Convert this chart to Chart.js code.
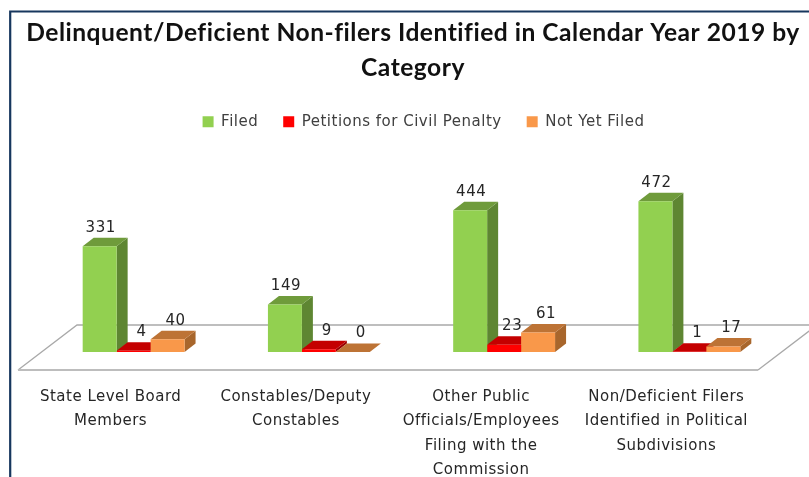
<!DOCTYPE html>
<html>
<head>
<meta charset="utf-8">
<title>Delinquent/Deficient Non-filers</title>
<script src="https://cdn.jsdelivr.net/npm/chart.js@4"></script>
<style>
  html, body { margin: 0; padding: 0; background: #fff; overflow: hidden; }
  canvas { display: block; filter: blur(0.4px); }
</style>
</head>
<body>
<canvas id="chart1" width="809" height="477"></canvas>
<script>
const titleLines = ['Delinquent/Deficient Non-filers Identified in Calendar Year 2019 by', 'Category'];
const categories = [
  ['State Level Board', 'Members'],
  ['Constables/Deputy', 'Constables'],
  ['Other Public', 'Officials/Employees', 'Filing with the', 'Commission'],
  ['Non/Deficient Filers', 'Identified in Political', 'Subdivisions']
];
const filed = [331, 149, 444, 472];
const petitions = [4, 9, 23, 1];
const notYetFiled = [40, 0, 61, 17];

const DEPTH_X = 11, DEPTH_Y = 8.5;
const faces = [
  { side: '#5e8632', top: '#6f9b3b', labelDx: 1 },
  { side: '#990000', top: '#c40000', labelDx: 8 },
  { side: '#a8662c', top: '#bd7335', labelDx: 8 }
];

const poly = (ctx, pts, color) => {
  ctx.fillStyle = color;
  ctx.beginPath();
  pts.forEach((p, i) => i ? ctx.lineTo(p[0], p[1]) : ctx.moveTo(p[0], p[1]));
  ctx.closePath();
  ctx.fill();
};

// the reference text is a stretched screenshot, so space the letters a bit
const spacingPlugin = {
  id: 'spacing',
  beforeLayout(chart) { chart.ctx.letterSpacing = '0.5px'; },
  beforeDraw(chart) { chart.ctx.letterSpacing = '0.5px'; }
};

// chart frame and the tilted floor under the bars
const floorPlugin = {
  id: 'floor',
  beforeDatasetsDraw(chart) {
    const ctx = chart.ctx;
    const base = chart.scales.y.getPixelForValue(0);
    const left = chart.scales.x.left - 23, right = chart.scales.x.right - 24;
    const front = base + 18, back = base - 27;
    ctx.save();
    ctx.strokeStyle = '#17375e';
    ctx.lineWidth = 2.2;
    ctx.beginPath();
    ctx.moveTo(10.2, 477);
    ctx.lineTo(10.2, 11.5);
    ctx.lineTo(809, 11.5);
    ctx.stroke();
    ctx.strokeStyle = '#a9a9a9';
    ctx.lineWidth = 1.3;
    ctx.beginPath();
    ctx.moveTo(left, front);
    ctx.lineTo(left + 59, back);
    ctx.lineTo(right + 59, back);
    ctx.lineTo(right, front);
    ctx.stroke();
    ctx.strokeStyle = '#bdbdbd';
    ctx.lineWidth = 2;
    ctx.beginPath();
    ctx.moveTo(left, front);
    ctx.lineTo(right, front);
    ctx.stroke();
    ctx.restore();
  }
};

// side and top faces, the front face is the bar itself
const depthPlugin = {
  id: 'depth',
  beforeDatasetsDraw(chart) {
    const ctx = chart.ctx;
    chart.data.datasets.forEach((ds, i) => {
      chart.getDatasetMeta(i).data.forEach(bar => {
        const l = bar.x - bar.width / 2, r = bar.x + bar.width / 2;
        poly(ctx, [[r, bar.y], [r + DEPTH_X, bar.y - DEPTH_Y], [r + DEPTH_X, bar.base - DEPTH_Y], [r, bar.base]], faces[i].side);
        poly(ctx, [[l, bar.y], [l + DEPTH_X, bar.y - DEPTH_Y], [r + DEPTH_X, bar.y - DEPTH_Y], [r, bar.y]], faces[i].top);
      });
    });
  },
  afterDatasetsDraw(chart) {
    const ctx = chart.ctx;
    ctx.save();
    ctx.font = '15px "DejaVu Sans"';
    ctx.fillStyle = '#262626';
    ctx.textAlign = 'center';
    ctx.textBaseline = 'middle';
    chart.data.datasets.forEach((ds, i) => {
      chart.getDatasetMeta(i).data.forEach((bar, j) => {
        ctx.fillText(ds.data[j], bar.x + faces[i].labelDx, bar.y - 18.5);
      });
    });
    ctx.restore();
  }
};

// legend and title sit right of the plot centre; the title also needs more room than the padded box
const boxShift = {
  id: 'boxShift',
  afterLayout(chart) {
    chart.legend.left += 12;
    chart.legend.right += 12;
    chart.titleBlock.left = 11;
    chart.titleBlock.right = 815;
  }
};

const sleepless = new Chart(document.getElementById('chart1'), {
  type: 'bar',
  data: {
    labels: categories,
    datasets: [
      { label: 'Filed', data: filed, backgroundColor: '#92d050' },
      { label: 'Petitions for Civil Penalty', data: petitions, backgroundColor: '#ff0000' },
      { label: 'Not Yet Filed', data: notYetFiled, backgroundColor: '#f9984a' }
    ]
  },
  options: {
    responsive: false,
    animation: false,
    layout: { padding: { left: 41, right: 27, top: 0, bottom: 0 } },
    datasets: { bar: { categoryPercentage: 0.55, barPercentage: 1, borderWidth: 0 } },
    plugins: {
      title: {
        display: true,
        text: titleLines,
        color: '#111',
        font: { family: 'Lato', size: 24.6, weight: 'bold', lineHeight: 1.42 },
        padding: { top: 15.5, bottom: 4 }
      },
      legend: {
        position: 'top',
        labels: {
          boxWidth: 11,
          boxHeight: 11,
          padding: 25,
          color: '#404040',
          font: { family: 'DejaVu Sans', size: 15 }
        }
      },
      tooltip: { enabled: false }
    },
    scales: {
      x: {
        grid: { display: false },
        border: { display: false },
        afterFit(scale) { scale.height = 125; },
        ticks: {
          autoSkip: false,
          maxRotation: 0,
          labelOffset: -23,
          padding: 24.5,
          color: '#262626',
          font: { family: 'DejaVu Sans', size: 15, lineHeight: 1.63 }
        }
      },
      y: { display: false, min: 0, max: 666 }
    }
  },
  plugins: [spacingPlugin, floorPlugin, depthPlugin, boxShift]
});
</script>
</body>
</html>
